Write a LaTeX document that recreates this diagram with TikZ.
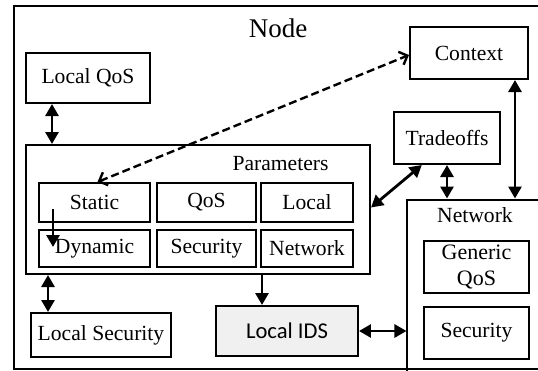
\documentclass[tikz,border=0pt]{standalone}
\usepackage{fontspec}
\setmainfont{Liberation Serif}
\newfontfamily\idsfont{Carlito}
\usetikzlibrary{arrows.meta}
\definecolor{idsgray}{RGB}{240,240,240}

\begin{document}
\begin{tikzpicture}[x=0.5pt,y=-0.5pt,
  box/.style={draw,line width=1pt,inner sep=0pt,font=\fontsize{10.8}{13}\selectfont},
  lbl/.style={inner sep=0pt,font=\fontsize{10.8}{13}\selectfont},
  dbl/.style={line width=1.4pt,{Triangle[width=6.5pt,length=6pt]}-{Triangle[width=6.5pt,length=6pt]}},
  sgl/.style={line width=1.4pt,-{Triangle[width=6.5pt,length=6pt]}},
  dsh/.style={line width=1.2pt,dash pattern=on 4pt off 2pt,{Straight Barb[length=3.5pt,width=7pt]}-{Straight Barb[length=3.5pt,width=7pt]}}]
\path[use as bounding box,clip] (0,0) rectangle (538,371);
% outer node frame
\draw[line width=1pt] (14,6) rectangle (560,369);
\node[lbl,font=\fontsize{13.5}{16}\selectfont] (nodelabel) at (278,28.5) {Node};
% left column
\node[box,minimum width=62pt,minimum height=25pt] (LocalQoS) at (88,78) {Local QoS};
\node[box,minimum width=172pt,minimum height=64.5pt] (Parameters) at (198,209.5) {};
\node[lbl] (paramlabel) at (280.5,163.5) {Parameters};
\node[box,minimum width=55.5pt,minimum height=19.5pt] (Static) at (94.5,202.5) {Static};
\node[box,minimum width=49.5pt,minimum height=19.5pt] (QoS) at (206.5,202.5) {QoS};
\node[box,minimum width=46pt,minimum height=19.5pt] (Local) at (307,202.5) {Local};
\node[box,minimum width=55.5pt,minimum height=18.5pt] (Dynamic) at (94.5,248.5) {Dynamic};
\node[box,minimum width=49.5pt,minimum height=18.5pt] (Security) at (206.5,248.5) {Security};
\node[box,minimum width=46pt,minimum height=18.5pt] (NetParam) at (307,248.5) {Network};
\node[box,minimum width=70pt,minimum height=22pt] (LocalSecurity) at (101,335) {Local Security};
\node[box,fill=idsgray,minimum width=71pt,minimum height=25pt,font=\idsfont\fontsize{11.3}{13}\selectfont] (LocalIDS) at (287,331) {Local IDS};
% right column
\node[box,minimum width=59pt,minimum height=26pt] (Context) at (469,53) {Context};
\node[box,minimum width=53pt,minimum height=26pt] (Tradeoffs) at (447,138) {Tradeoffs};
\node[box,minimum width=116.5pt,minimum height=110.5pt] (Network) at (524,310) {};
\node[lbl] (netlabel) at (475,215.5) {Network};
\node[box,align=center,minimum width=52.5pt,minimum height=26pt,font=\fontsize{11}{13}\selectfont] (GenericQoS) at (476.5,267) {Generic\\QoS};
\node[box,minimum width=52.5pt,minimum height=26pt] (NetSecurity) at (476.5,333) {Security};
% connectors
\draw[dbl] ([xshift=-18pt]LocalQoS.south) -- ([xshift=-18pt]LocalQoS.south |- Parameters.north);
\draw[dbl] ([xshift=-26.5pt]LocalSecurity.north |- Parameters.south) -- ([xshift=-26.5pt]LocalSecurity.north);
\draw[sgl] ([shift={(-20.75pt,-3.25pt)}]Static.center) -- ([shift={(-20.75pt,0.75pt)}]Dynamic.center);
\draw[sgl] ([xshift=-12.5pt]LocalIDS.north |- Parameters.south) -- ([xshift=-12.5pt]LocalIDS.north);
\draw[dbl] (LocalIDS.east) -- (LocalIDS.east -| Network.west);
\draw[dsh] ([xshift=1.5pt]Static.north) -- ([yshift=-1pt]Context.west);
\draw[dbl] ([yshift=1pt]Parameters.east) -- (Tradeoffs.227);
\draw[dbl] (Tradeoffs.south) -- (Tradeoffs.south |- Network.north);
\draw[dbl] ([xshift=23pt]Context.south) -- ([xshift=23pt]Context.south |- Network.north);
\end{tikzpicture}
\end{document}
